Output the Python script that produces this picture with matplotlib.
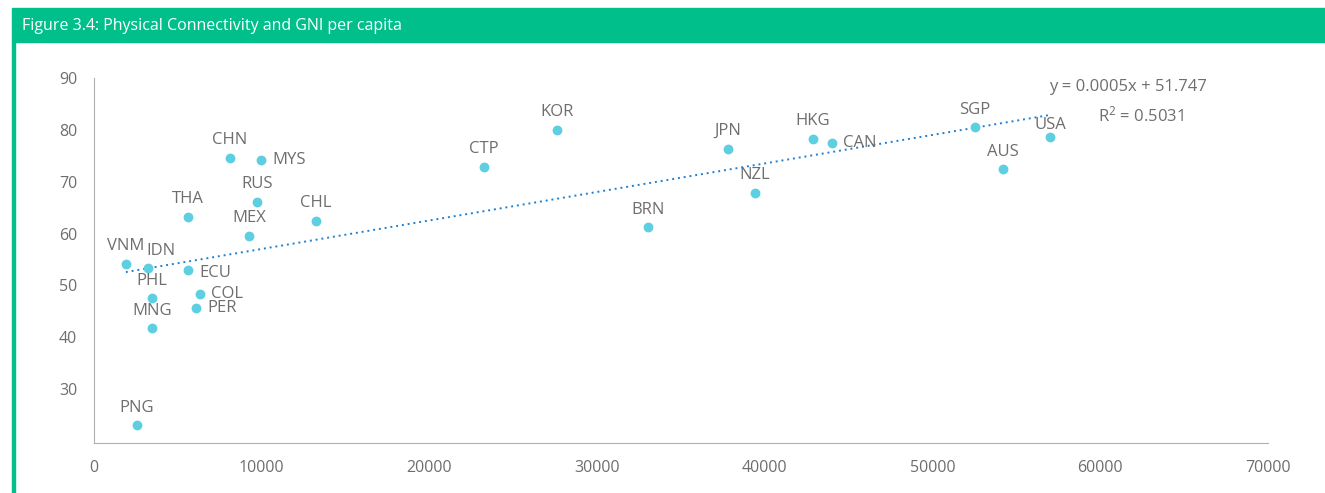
import matplotlib
matplotlib.use("Agg")
import matplotlib.pyplot as plt
import numpy as np

plt.rcParams['font.family'] = ['Open Sans', 'DejaVu Sans']
plt.rcParams['mathtext.default'] = 'regular'

# GNI per capita (x) and physical connectivity score (y)
countries = ['VNM', 'IDN', 'THA', 'CHN', 'MYS', 'RUS', 'MEX', 'CHL', 'ECU', 'COL',
             'PER', 'PHL', 'MNG', 'PNG', 'CTP', 'KOR', 'BRN', 'JPN', 'NZL', 'HKG',
             'CAN', 'SGP', 'AUS', 'USA']
gni = [1900, 3220, 5600, 8100, 9950, 9720, 9240, 13240, 5600, 6320,
       6080, 3460, 3460, 2560, 23260, 27600, 33030, 37800, 39420, 42870,
       44000, 52530, 54200, 57000]
connectivity = [54.1, 53.3, 63.2, 74.6, 74.2, 66.1, 59.5, 62.4, 52.9, 48.3,
                45.6, 47.5, 41.7, 23.0, 72.8, 80.0, 61.2, 76.3, 67.8, 78.2,
                77.5, 80.5, 72.4, 78.6]
# labels placed to the right of the point instead of above it
right_labels = ['MYS', 'ECU', 'COL', 'PER', 'CAN']

x_ticks = [0, 10000, 20000, 30000, 40000, 50000, 60000, 70000]
y_ticks = [30, 40, 50, 60, 70, 80, 90]

green = '#00BF8A'
grey = '#6E6E6E'

fig = plt.figure(figsize=(13.25, 4.93), dpi=100)

# header bar and left border
fig.patches.append(plt.Rectangle((12 / 1325, 1 - 42 / 493), 1, 34 / 493,
                                 transform=fig.transFigure, color=green, zorder=0))
fig.patches.append(plt.Rectangle((12 / 1325, 0), 3 / 1325, 1 - 42 / 493,
                                 transform=fig.transFigure, color=green, zorder=0))
fig.text(22 / 1325, 1 - 26 / 493, 'Figure 3.4: Physical Connectivity and GNI per capita',
         color='white', fontsize=11.5, va='center', ha='left')

ax = fig.add_axes([94 / 1325, 1 - 443 / 493, 1174 / 1325, 365 / 493])
ax.scatter(gni, connectivity, s=50, color='#5ECFE0', zorder=3, linewidths=0)

# linear trendline
slope, intercept = np.polyfit(gni, connectivity, 1)
xs = np.array([min(gni), max(gni)])
ax.plot(xs, slope * xs + intercept, color='#1F7FD0', linestyle=(0, (1, 2)), linewidth=1.4, zorder=2)

for name, xv, yv in zip(countries, gni, connectivity):
    if name in right_labels:
        dy = -2 if name == 'ECU' else 0
        ax.annotate(name, (xv, yv), xytext=(8, dy), textcoords='offset points',
                    ha='left', va='center', fontsize=12, color=grey)
    else:
        dx = 9 if name == 'IDN' else 0
        dy = 3 if name == 'USA' else 7
        ax.annotate(name, (xv, yv), xytext=(dx, dy), textcoords='offset points',
                    ha='center', va='bottom', fontsize=12, color=grey)

ax.text(61660, 88.3, 'y = 0.0005x + 51.747', ha='center', va='center', fontsize=12, color=grey)
ax.text(62430, 82.7, 'R$^{2}$ = 0.5031', ha='center', va='center', fontsize=12, color=grey)

ax.set_xlim(0, 70000)
ax.set_ylim(19.6, 90)
ax.set_xticks(x_ticks)
ax.set_yticks(y_ticks)
ax.tick_params(length=0, labelsize=11.5, labelcolor=grey, pad=12)
for side in ['top', 'right']:
    ax.spines[side].set_visible(False)
for side in ['left', 'bottom']:
    ax.spines[side].set_color('#B0B0B0')

fig.savefig('out.png', dpi=100)
